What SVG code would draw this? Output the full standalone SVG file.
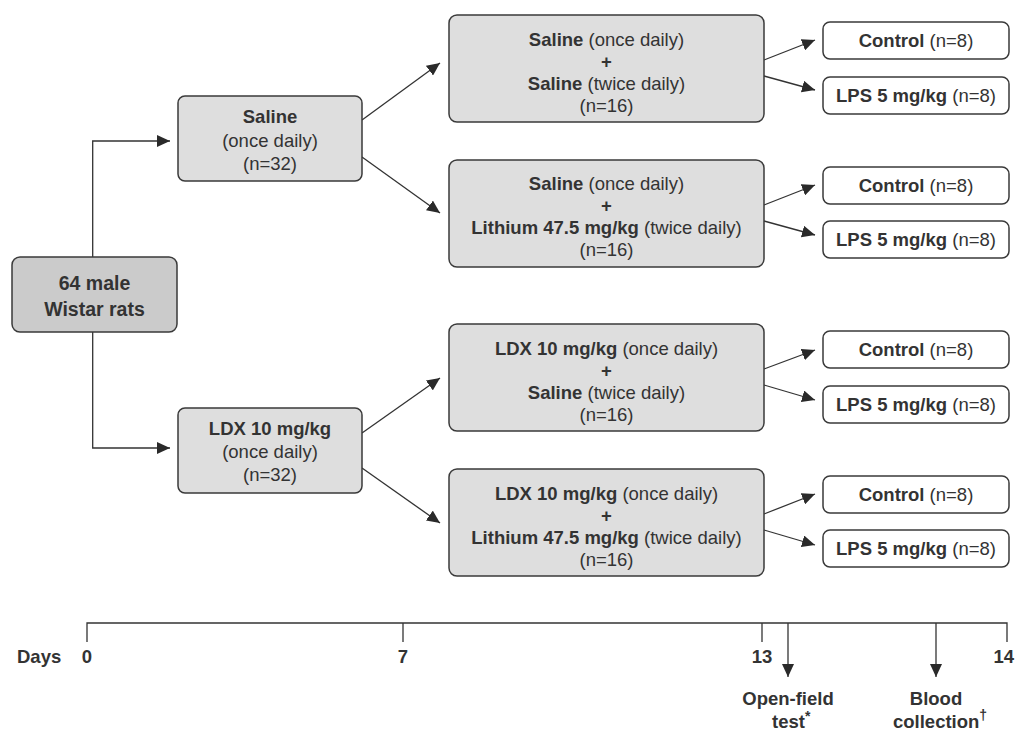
<svg xmlns="http://www.w3.org/2000/svg" width="1015" height="731" viewBox="0 0 1015 731">
<style>
text{font-family:"Liberation Sans",Arial,sans-serif;font-size:18.5px;fill:#333;}
.b{font-weight:bold;}
.c{text-anchor:middle;}
.box{fill:#dedede;stroke:#3a3a3a;stroke-width:1.5;}
.root{fill:#cbcbcb;stroke:#3a3a3a;stroke-width:1.5;}
.out{fill:#fff;stroke:#3a3a3a;stroke-width:1.5;}
.ln{fill:none;stroke:#333;stroke-width:1.3;}
.ar{marker-end:url(#ah);}
.sup{font-size:14px;}
</style>
<defs>
<marker id="ah" markerUnits="userSpaceOnUse" markerWidth="14" markerHeight="12" refX="13" refY="6" orient="auto">
<path d="M0,0 L13,6 L0,12 z" fill="#2a2a2a"/>
</marker>
</defs>
<rect width="1015" height="731" fill="#fff"/>

<g id="connectors">
<polyline class="ln ar" points="92.7,257 92.7,141 170,141"/>
<polyline class="ln ar" points="92.7,332 92.7,448 170,448"/>
<line class="ln ar" x1="362" y1="120" x2="440" y2="63"/>
<line class="ln ar" x1="362" y1="157" x2="440" y2="213"/>
<line class="ln ar" x1="362" y1="433" x2="440" y2="378"/>
<line class="ln ar" x1="362" y1="468" x2="440" y2="523"/>
<line class="ln ar" x1="764" y1="60" x2="815" y2="40"/>
<line class="ln ar" x1="764" y1="76" x2="815" y2="90"/>
<line class="ln ar" x1="764" y1="205" x2="815" y2="185"/>
<line class="ln ar" x1="764" y1="221" x2="815" y2="235"/>
<line class="ln ar" x1="764" y1="369" x2="815" y2="350"/>
<line class="ln ar" x1="764" y1="385" x2="815" y2="400"/>
<line class="ln ar" x1="764" y1="514" x2="815" y2="494"/>
<line class="ln ar" x1="764" y1="530" x2="815" y2="545"/>
</g>

<g id="n-root">
<rect class="root" x="12" y="257" width="165" height="75" rx="8"/>
<text class="b c" x="94.5" y="290" style="font-size:19.5px">64 male</text>
<text class="b c" x="94.5" y="316" style="font-size:19.5px">Wistar rats</text>
</g>

<g id="n-saline">
<rect class="box" x="178" y="96" width="184" height="85" rx="7"/>
<text class="b c" x="270" y="123">Saline</text>
<text class="c" x="270" y="147">(once daily)</text>
<text class="c" x="270" y="170">(n=32)</text>
</g>

<g id="n-ldx">
<rect class="box" x="178" y="408" width="184" height="85" rx="7"/>
<text class="b c" x="270" y="435">LDX 10 mg/kg</text>
<text class="c" x="270" y="458">(once daily)</text>
<text class="c" x="270" y="481">(n=32)</text>
</g>

<g id="n-ss">
<rect class="box" x="449" y="15" width="315" height="107" rx="8"/>
<text class="c" x="606.5" y="46"><tspan class="b">Saline</tspan> (once daily)</text>
<text class="b c" x="606.5" y="68">+</text>
<text class="c" x="606.5" y="90"><tspan class="b">Saline</tspan> (twice daily)</text>
<text class="c" x="606.5" y="112">(n=16)</text>
</g>

<g id="n-sl">
<rect class="box" x="449" y="160" width="315" height="107" rx="8"/>
<text class="c" x="606.5" y="190"><tspan class="b">Saline</tspan> (once daily)</text>
<text class="b c" x="606.5" y="212">+</text>
<text class="c" x="606.5" y="234"><tspan class="b">Lithium 47.5 mg/kg</tspan> (twice daily)</text>
<text class="c" x="606.5" y="256">(n=16)</text>
</g>

<g id="n-ls">
<rect class="box" x="449" y="324" width="315" height="107" rx="8"/>
<text class="c" x="606.5" y="355"><tspan class="b">LDX 10 mg/kg</tspan> (once daily)</text>
<text class="b c" x="606.5" y="377">+</text>
<text class="c" x="606.5" y="399"><tspan class="b">Saline</tspan> (twice daily)</text>
<text class="c" x="606.5" y="421">(n=16)</text>
</g>

<g id="n-ll">
<rect class="box" x="449" y="469" width="315" height="107" rx="8"/>
<text class="c" x="606.5" y="500"><tspan class="b">LDX 10 mg/kg</tspan> (once daily)</text>
<text class="b c" x="606.5" y="522">+</text>
<text class="c" x="606.5" y="544"><tspan class="b">Lithium 47.5 mg/kg</tspan> (twice daily)</text>
<text class="c" x="606.5" y="566">(n=16)</text>
</g>

<g id="n-c1"><rect class="out" x="823" y="22" width="186" height="37" rx="7"/><text class="c" x="916" y="47"><tspan class="b">Control</tspan> (n=8)</text></g>
<g id="n-p1"><rect class="out" x="823" y="77" width="186" height="37" rx="7"/><text class="c" x="916" y="102"><tspan class="b">LPS 5 mg/kg</tspan> (n=8)</text></g>
<g id="n-c2"><rect class="out" x="823" y="167" width="186" height="37" rx="7"/><text class="c" x="916" y="192"><tspan class="b">Control</tspan> (n=8)</text></g>
<g id="n-p2"><rect class="out" x="823" y="221" width="186" height="37" rx="7"/><text class="c" x="916" y="246"><tspan class="b">LPS 5 mg/kg</tspan> (n=8)</text></g>
<g id="n-c3"><rect class="out" x="823" y="331" width="186" height="37" rx="7"/><text class="c" x="916" y="356"><tspan class="b">Control</tspan> (n=8)</text></g>
<g id="n-p3"><rect class="out" x="823" y="386" width="186" height="37" rx="7"/><text class="c" x="916" y="411"><tspan class="b">LPS 5 mg/kg</tspan> (n=8)</text></g>
<g id="n-c4"><rect class="out" x="823" y="476" width="186" height="37" rx="7"/><text class="c" x="916" y="501"><tspan class="b">Control</tspan> (n=8)</text></g>
<g id="n-p4"><rect class="out" x="823" y="530" width="186" height="37" rx="7"/><text class="c" x="916" y="555"><tspan class="b">LPS 5 mg/kg</tspan> (n=8)</text></g>

<g id="timeline">
<polyline class="ln" points="87,642 87,623 1007,623 1007,642"/>
<line class="ln" x1="403" y1="623" x2="403" y2="642"/>
<line class="ln" x1="762" y1="623" x2="762" y2="642"/>
<line class="ln ar" x1="788" y1="623" x2="788" y2="677"/>
<line class="ln ar" x1="936" y1="623" x2="936" y2="677"/>
<text class="b" x="17" y="663">Days</text>
<text class="b c" x="87" y="663">0</text>
<text class="b c" x="403" y="663">7</text>
<text class="b c" x="762" y="663">13</text>
<text class="b" x="1014" y="663" style="text-anchor:end">14</text>
<text class="b c" x="788" y="705">Open-field</text>
<text class="b" x="772" y="728">test<tspan class="sup" dy="-7">*</tspan></text>
<text class="b c" x="936" y="705">Blood</text>
<text class="b" x="893" y="728">collection<tspan class="sup" dy="-8">†</tspan></text>
</g>
</svg>
